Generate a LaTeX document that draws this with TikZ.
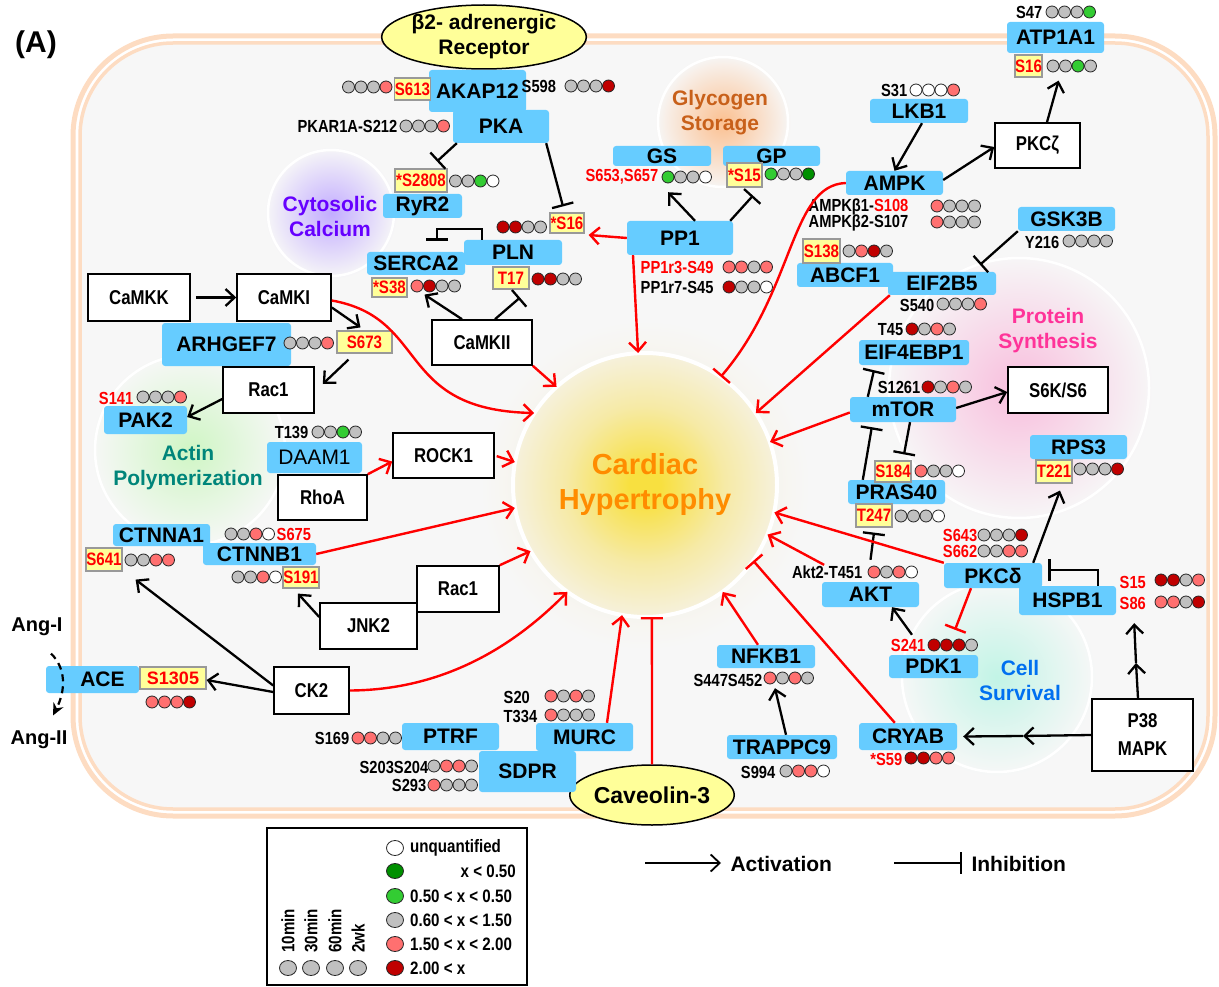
\documentclass[tikz,border=0pt]{standalone}
\usepackage{fontspec}
\setmainfont{Liberation Sans}
\newfontfamily\narrowfont[FakeStretch=0.84]{Liberation Sans}
\usepackage{xcolor}
\usetikzlibrary{arrows.meta,shapes.geometric}
\definecolor{bgcell}{HTML}{F7F7F7}
\definecolor{peach}{HTML}{FDDCC2}
\definecolor{protblue}{HTML}{66CCFF}
\definecolor{siteyellow}{HTML}{FFFF99}
\definecolor{sitegray}{HTML}{999999}
\definecolor{gy}{HTML}{C0C0C0}
\definecolor{pk}{HTML}{FF7070}
\definecolor{dr}{HTML}{C00000}
\definecolor{lg}{HTML}{33CC33}
\definecolor{dg}{HTML}{009000}
\definecolor{wh}{HTML}{FFFFFF}
\definecolor{calciumc}{HTML}{6600FF}
\definecolor{calciumglow}{HTML}{C2ACFF}
\definecolor{glycoc}{HTML}{C8601A}
\definecolor{glycoglow}{HTML}{FBC091}
\definecolor{actinc}{HTML}{00857A}
\definecolor{actinglow}{HTML}{CFF6C4}
\definecolor{proteinc}{HTML}{FF3399}
\definecolor{proteinglow}{HTML}{F8BEDD}
\definecolor{survivalc}{HTML}{0070F0}
\definecolor{survivalglow}{HTML}{C2F4E6}
\definecolor{cardiacc}{HTML}{FF8C00}
\definecolor{cgA}{HTML}{F8E040}
\definecolor{cgB}{HTML}{F6EAA6}
\definecolor{cgC}{HTML}{F6F1DC}
\definecolor{cghalo}{HTML}{F4EDCF}
\pgfdeclareradialshading{cardglow}{\pgfpoint{0bp}{0bp}}{color(0bp)=(cgA); color(3bp)=(cgA); color(15bp)=(cgB); color(25bp)=(cgC); color(50bp)=(cgC)}

\newcommand{\boxfont}{\bfseries\fontsize{21}{23}\selectfont}
\newcommand{\wboxfont}{\narrowfont\bfseries\fontsize{20}{28}\selectfont}
\newcommand{\sitefont}{\narrowfont\bfseries\fontsize{17.5}{19}\selectfont}
\newcommand{\ysitefont}{\narrowfont\bfseries\fontsize{18}{20}\selectfont}
\newcommand{\regionfont}{\bfseries\fontsize{21}{25}\selectfont}
\newcommand{\cardfont}{\bfseries\fontsize{29}{35}\selectfont}
\newcommand{\legfont}{\narrowfont\bfseries\fontsize{18}{20}\selectfont}
\newcommand{\legbigfont}{\bfseries\fontsize{21}{23}\selectfont}

\tikzset{
  prot/.style={fill=protblue, rounded corners=3pt, font=\boxfont, inner sep=0pt},
  wbox/.style={draw=black, line width=1.6pt, fill=white, font=\wboxfont, inner sep=0pt, align=center},
  ysite/.style={draw=sitegray, line width=1.2pt, fill=siteyellow, font=\ysitefont, text=red, inner sep=0pt},
  site/.style={font=\sitefont, inner sep=0.5pt},
  region/.style={font=\regionfont, align=center},
  dotline/.style={draw=black!85, line width=0.8pt},
  act/.style={->, line width=2.3pt},
  inh/.style={-{Bar[width=22pt]}, line width=2.3pt},
  ract/.style={act, red, line width=2.4pt},
  rinh/.style={inh, red, line width=2.4pt},
}
% four time points of one phosphosite
\newcommand{\phos}[3]{%
  \foreach \col [count=\i from 0] in {#3} {
    \draw[dotline, fill=\col] ({#1+12.5*\i},#2) circle (6pt);
  }}

\begin{document}
\begin{tikzpicture}[x=1pt,y=-1pt,>={Straight Barb[length=9pt,width=17pt]}]
  \useasboundingbox (0,0) rectangle (1219,987);
  % cell membrane
  \draw[peach, line width=5pt, rounded corners=100pt] (73,36) rectangle (1215,816);
  \draw[peach, line width=3.5pt, fill=bgcell, rounded corners=93pt] (80,43) rectangle (1208,809);
  % functional regions
  \shade[inner color=calciumglow, outer color=bgcell] (331,213) circle (66pt);
  \draw[white, line width=2.5pt] (331,213) circle (63pt);
  \shade[inner color=glycoglow, outer color=bgcell] (723,122) circle (68pt);
  \draw[white, line width=2.5pt] (723,122) circle (65pt);
  \shade[inner color=actinglow, outer color=bgcell] (190,450) circle (99pt);
  \draw[white, line width=2.5pt] (190,450) circle (95pt);
  \shade[inner color=proteinglow, outer color=bgcell] (1019,388) circle (134pt);
  \draw[white, line width=2.5pt] (1019,388) circle (130pt);
  \shade[inner color=survivalglow, outer color=bgcell] (997,677) circle (99pt);
  \draw[white, line width=2.5pt] (997,677) circle (95pt);
  \shade[inner color=cghalo, outer color=bgcell] (645,485) circle (165pt);
  \node[circle, minimum size=264pt, shade, shading=cardglow, font=\cardfont, text=cardiacc, align=center] (cardiac) at (645,485) {Cardiac\\Hypertrophy};
  \draw[white, line width=4pt] (645,485) circle (132pt);

  \node[region, text=calciumc] (calcium) at (330,216) {Cytosolic\\Calcium};
  \node[region, text=glycoc] (glyco) at (720,113) {Glycogen\\Storage};
  \node[region, text=actinc] (actin) at (188,468) {Actin\\Polymerization};
  \node[region, text=proteinc] (protein) at (1048,331) {Protein\\Synthesis};
  \node[region, text=survivalc] (survival) at (1020,680) {Cell\\Survival};

  \node[font=\bfseries\fontsize{30}{32}\selectfont] (panel) at (36,45) {(A)};
  \node[ellipse, draw, line width=1.5pt, fill=siteyellow, minimum width=190pt, minimum height=64pt, inner sep=0pt, region] (b2ar) at (484,37) {β2- adrenergic\\Receptor};
  \node[ellipse, draw, line width=1.5pt, fill=siteyellow, minimum width=158pt, minimum height=60pt, inner sep=0pt, font=\bfseries\fontsize{23}{25}\selectfont] (cav3) at (652,795) {Caveolin-3};

  % proteins
  \node[prot, minimum width=97pt, minimum height=42pt] (akap) at (477.5,91) {AKAP12};
  \node[prot, minimum width=96pt, minimum height=33pt] (pka) at (501,126.5) {PKA};
  \node[prot, minimum width=79pt, minimum height=24pt] (ryr2) at (422.5,206) {RyR2};
  \node[prot, minimum width=98pt, minimum height=25pt] (pln) at (513,252.5) {PLN};
  \node[prot, minimum width=98pt, minimum height=23pt] (serca) at (416,263.5) {SERCA2};
  \node[prot, minimum width=106pt, minimum height=34pt] (pp1) at (680,238) {PP1};
  \node[prot, minimum width=98pt, minimum height=20pt] (gs) at (662,156) {GS};
  \node[prot, minimum width=97pt, minimum height=20pt] (gp) at (771.5,156) {GP};
  \node[prot, minimum width=97pt, minimum height=24pt] (ampk) at (894.5,183) {AMPK};
  \node[prot, minimum width=98pt, minimum height=24pt] (lkb1) at (919,111) {LKB1};
  \node[prot, minimum width=97pt, minimum height=31pt] (atp) at (1055.5,37.5) {ATP1A1};
  \node[prot, minimum width=97pt, minimum height=24pt] (gsk) at (1066.5,219) {GSK3B};
  \node[prot, minimum width=96pt, minimum height=24pt] (abcf1) at (845,275) {ABCF1};
  \node[prot, minimum width=108pt, minimum height=23pt] (eif2b5) at (942,283.5) {EIF2B5};
  \node[prot, minimum width=110pt, minimum height=25pt] (eif4) at (914,352.5) {EIF4EBP1};
  \node[prot, minimum width=106pt, minimum height=25pt] (mtor) at (903,409.5) {mTOR};
  \node[prot, minimum width=97pt, minimum height=24pt] (pras) at (896.5,492) {PRAS40};
  \node[prot, minimum width=97pt, minimum height=24pt] (rps3) at (1078.5,447) {RPS3};
  \node[prot, minimum width=98pt, minimum height=25pt] (pkcd) at (993,575.5) {PKCδ};
  \node[prot, minimum width=97pt, minimum height=29pt] (hspb1) at (1067.5,600.5) {HSPB1};
  \node[prot, minimum width=97pt, minimum height=25pt] (akt) at (870.5,594.5) {AKT};
  \node[prot, minimum width=89pt, minimum height=23pt] (pdk1) at (933.5,666.5) {PDK1};
  \node[prot, minimum width=98pt, minimum height=27pt] (cryab) at (908,736.5) {CRYAB};
  \node[prot, minimum width=98pt, minimum height=23pt] (nfkb1) at (766,656.5) {NFKB1};
  \node[prot, minimum width=110pt, minimum height=24pt] (trappc9) at (782,747) {TRAPPC9};
  \node[prot, minimum width=97pt, minimum height=28pt] (murc) at (584.5,737) {MURC};
  \node[prot, minimum width=97pt, minimum height=27pt] (ptrf) at (450.5,736.5) {PTRF};
  \node[prot, minimum width=97pt, minimum height=41pt] (sdpr) at (527.5,771.5) {SDPR};
  \node[prot, minimum width=129pt, minimum height=43pt] (arhgef7) at (226.5,344.5) {ARHGEF7};
  \node[prot, minimum width=83pt, minimum height=28pt] (pak2) at (145.5,420) {PAK2};
  \node[prot, minimum width=95pt, minimum height=31pt, font=\fontsize{21}{23}\selectfont] (daam1) at (314.5,457.5) {DAAM1};
  \node[prot, minimum width=97pt, minimum height=22pt] (ctnna1) at (161.5,535) {CTNNA1};
  \node[prot, minimum width=113pt, minimum height=22pt] (ctnnb1) at (259.5,554) {CTNNB1};
  \node[prot, minimum width=93pt, minimum height=27pt] (ace) at (92.5,679.5) {\hspace*{20pt}ACE};

  % kinases and other partners
  \node[wbox, minimum width=102pt, minimum height=47pt] (camkk) at (139,297.5) {CaMKK};
  \node[wbox, minimum width=94pt, minimum height=47pt] (camki) at (284,297.5) {CaMKI};
  \node[wbox, minimum width=100pt, minimum height=45pt] (camkii) at (482,342.5) {CaMKII};
  \node[wbox, minimum width=91pt, minimum height=46pt] (rac1a) at (268.5,390) {Rac1};
  \node[wbox, minimum width=89pt, minimum height=45pt] (rhoa) at (322.5,497.5) {RhoA};
  \node[wbox, minimum width=101pt, minimum height=45pt] (rock1) at (443.5,455.5) {ROCK1};
  \node[wbox, minimum width=97pt, minimum height=46pt] (jnk2) at (368.5,626) {JNK2};
  \node[wbox, minimum width=82pt, minimum height=46pt] (rac1b) at (458,589) {Rac1};
  \node[wbox, minimum width=75pt, minimum height=47pt] (ck2) at (311.5,690.5) {CK2};
  \node[wbox, minimum width=85pt, minimum height=45pt] (pkcz) at (1037.5,145.5) {PKCζ};
  \node[wbox, minimum width=100pt, minimum height=46pt] (s6k) at (1058,390) {S6K/S6};
  \node[wbox, minimum width=101pt, minimum height=72pt] (p38) at (1142.5,735) {P38\\MAPK};

  % highlighted phosphosites
  \node[ysite, minimum width=35pt, minimum height=22pt] (s613) at (412.5,89) {S613};
  \node[ysite, minimum width=52pt, minimum height=23pt] (s2808) at (421,180.5) {*S2808};
  \node[ysite, minimum width=34pt, minimum height=20pt] (s16p) at (567,223) {*S16};
  \node[ysite, minimum width=35pt, minimum height=19pt] (s38) at (389.5,287.5) {*S38};
  \node[ysite, minimum width=36pt, minimum height=22pt] (t17) at (511,278) {T17};
  \node[ysite, minimum width=35pt, minimum height=24pt] (s15gp) at (744.5,175) {*S15};
  \node[ysite, minimum width=27pt, minimum height=22pt] (s16a) at (1028.5,66) {S16};
  \node[ysite, minimum width=37pt, minimum height=24pt] (s138) at (821.5,251) {S138};
  \node[ysite, minimum width=36pt, minimum height=21pt] (s184) at (893,471.5) {S184};
  \node[ysite, minimum width=36pt, minimum height=23pt] (t247) at (874,515.5) {T247};
  \node[ysite, minimum width=36pt, minimum height=23pt] (t221) at (1054,471.5) {T221};
  \node[ysite, minimum width=55pt, minimum height=22pt] (s673) at (364.5,342) {S673};
  \node[ysite, minimum width=36pt, minimum height=23pt] (s641) at (104,559.5) {S641};
  \node[ysite, minimum width=36pt, minimum height=21pt] (s191) at (301,577.5) {S191};
  \node[ysite, minimum width=66pt, minimum height=22pt, font=\bfseries\fontsize{18}{20}\selectfont] (s1305) at (173,678) {S1305};

  % other phosphosites
  \node[site, anchor=west] (l598) at (521,86) {S598};
  \node[site, anchor=east] (lpkar) at (398,126) {PKAR1A-S212};
  \node[site, anchor=east, text=red] (l653) at (659,177) {S653,S657};
  \node[site, anchor=west, text=red] (lpp1r3) at (640,267) {PP1r3-S49};
  \node[site, anchor=west] (lpp1r7) at (640,287) {PP1r7-S45};
  \node[site, anchor=east] (l31) at (908,90) {S31};
  \node[site, anchor=east] (l47) at (1043,12) {S47};
  \node[site, anchor=west] (lb1) at (808,207) {AMPKβ1-\textcolor{red}{S108}};
  \node[site, anchor=west] (lb2) at (808,223) {AMPKβ2-S107};
  \node[site, anchor=east] (l216) at (1060,242) {Y216};
  \node[site, anchor=east] (l540) at (935,305) {S540};
  \node[site, anchor=east] (l45) at (904,330) {T45};
  \node[site, anchor=east] (l1261) at (921,387) {S1261};
  \node[site, anchor=east, text=red] (l643) at (978,535) {S643};
  \node[site, anchor=east, text=red] (l662) at (978,551) {S662};
  \node[site, anchor=west, text=red] (l15h) at (1119,582) {S15};
  \node[site, anchor=west, text=red] (l86) at (1119,603) {S86};
  \node[site, anchor=east] (aktlab) at (863,572) {Akt2-T451};
  \node[site, anchor=east, text=red] (l241) at (926,645) {S241};
  \node[site, anchor=east, text=red] (l59) at (903,759) {*S59};
  \node[site, anchor=east] (l447) at (763,680) {S447S452};
  \node[site, anchor=east] (l994) at (776,772) {S994};
  \node[site, anchor=west] (l20) at (503,697) {S20};
  \node[site, anchor=west] (l334) at (503,716) {T334};
  \node[site, anchor=east] (l169) at (350,738) {S169};
  \node[site, anchor=east] (l203) at (429,767) {S203S204};
  \node[site, anchor=east] (l293) at (427,785) {S293};
  \node[site, anchor=east, text=red] (l141) at (134,398) {S141};
  \node[site, anchor=east] (l139) at (309,432) {T139};
  \node[site, anchor=west, text=red] (l675) at (276,534) {S675};
  \node[font=\bfseries\fontsize{20}{22}\selectfont] (angi) at (37,627) {Ang-I};
  \node[font=\bfseries\fontsize{20}{22}\selectfont] (angii) at (39,740) {Ang-II};

  % calcium handling
  \draw[inh] ([xshift=4pt]pka.south west) -- ([xshift=16pt,yshift=7pt]s2808.north);
  \draw[inh] ([xshift=-3pt]pka.south east) -- ([xshift=-4pt,yshift=6pt]s16p.north);
  \draw[inh] ([xshift=-31pt]pln.north) -- ++(0,-11) -| ([xshift=21pt,yshift=11pt]serca.north);
  \draw[act] ([xshift=-20pt]camkii.north) -- ([xshift=35pt,yshift=3pt]s38.south);
  \draw[inh] ([xshift=13pt]camkii.north) -- ([xshift=9pt,yshift=-8pt]t17.south);
  \draw[ract] (camkii.south east) -- (cardiac.132);
  \draw[ract] (pp1.west) -- ([xshift=4pt,yshift=-12pt]s16p.east);
  % glycogen and energy
  \draw[act] ([xshift=15pt]pp1.north) -- ([xshift=6pt,yshift=-26pt]gs.south);
  \draw[inh] ([xshift=-3pt]pp1.north east) -- ([xshift=8.5pt,yshift=-8pt]s15gp.south);
  \draw[ract] ([xshift=-47pt]pp1.south) -- (cardiac.93);
  \draw[act] ([xshift=3pt]lkb1.south) -- (ampk.north);
  \draw[act] ([yshift=3pt]ampk.east) -- ([yshift=-1.5pt]pkcz.west);
  \draw[act] ([xshift=9.5pt]pkcz.north) -- ([xshift=16pt,yshift=-3pt]s16a.south east);
  \draw[rinh] (ampk.west) .. controls (790,185) and (795,290) .. (cardiac.55);
  % protein synthesis
  \draw[inh] (gsk.south west) -- ([xshift=38pt,yshift=7pt]eif2b5.north);
  \draw[ract] ([xshift=2pt]eif2b5.south west) -- (cardiac.33);
  \draw[inh] ([xshift=18pt]mtor.north west) -- ([xshift=-40pt,yshift=-5pt]eif4.south);
  \draw[act] ([yshift=1.5pt]mtor.east) -- ([yshift=-2pt]s6k.west);
  \draw[ract] ([yshift=-3pt]mtor.west) -- (cardiac.19);
  \draw[inh] ([xshift=7pt]mtor.south) -- ([xshift=11pt,yshift=6pt]s184.north);
  \draw[inh] ([xshift=15pt]pras.north west) -- ([xshift=22pt,yshift=-5pt]mtor.south west);
  % cell survival
  \draw[inh] ([yshift=22pt]akt.north) -- ([yshift=-5pt]t247.south);
  \draw[ract] ([xshift=-3pt]aktlab.north) -- (cardiac.-22);
  \draw[act] ([xshift=-21.5pt,yshift=20pt]pdk1.north) -- ([xshift=21.5pt]akt.south);
  \draw[rinh] ([xshift=-22pt]pkcd.south) -- ([xshift=21.5pt,yshift=25pt]pdk1.north);
  \draw[ract] (pkcd.north west) -- (cardiac.-12);
  \draw[act] ([xshift=-9pt]pkcd.north east) -- ([xshift=6pt,yshift=-7pt]t221.south);
  \draw[inh] ([xshift=30.5pt]hspb1.north) |- ([xshift=6pt,yshift=5.5pt]pkcd.east);
  \coordinate (p38up) at (1136,663);
  \coordinate (p38left) at (1023,736);
  \draw[act] ([xshift=-4.5pt]p38.north) -- (p38up);
  \draw[act] (p38up) -- ([xshift=18pt,yshift=-8pt]hspb1.south east);
  \draw[act] (p38.west) -- (p38left);
  \draw[act] (p38left) -- ([xshift=6pt]cryab.east);
  \draw[rinh] ([xshift=36pt]cryab.north west) -- (cardiac.-35);
  \draw[ract] ([xshift=-8pt]nfkb1.north) -- (cardiac.-54);
  \draw[act] ([xshift=4pt]trappc9.north) -- ([xshift=9pt,yshift=-20pt]nfkb1.south);
  % caveolae
  \draw[rinh] (cav3.north) -- (cardiac.-87);
  \draw[ract] ([xshift=22.5pt]murc.north) -- (cardiac.-100);
  % cytoskeleton and adhesion
  \draw[act, shorten <=5pt] (camkk.east) -- (camki.west);
  \draw[act] ([yshift=-10pt]camki.east) -- ([xshift=-4pt,yshift=3pt]s673.north);
  \draw[ract] ([yshift=-3pt]camki.east) .. controls (430,318) and (395,410) .. (cardiac.147);
  \draw[act] ([xshift=-16pt,yshift=-6pt]s673.south) -- ([xshift=8pt,yshift=6pt]rac1a.east);
  \draw[act] ([yshift=-9pt]rac1a.west) -- ([yshift=3pt]pak2.east);
  \draw[ract] (rhoa.north east) -- ([yshift=-6pt]rock1.west);
  \draw[ract, shorten <=2pt] (rock1.east) -- (cardiac.170);
  \draw[ract] (ctnnb1.east) -- (cardiac.190);
  \draw[act] ([yshift=9pt]jnk2.west) -- ([xshift=-3pt,yshift=-5pt]s191.south);
  \draw[ract] (rac1b.north east) -- (cardiac.210);
  \draw[act] ([yshift=5pt]ck2.west) -- ([xshift=13pt,yshift=-8pt]s641.south east);
  \draw[act] ([yshift=-1.5pt]ck2.west) -- ([yshift=-2pt]s1305.east);
  \draw[ract] (ck2.east) .. controls (450,690) and (520,640) .. (cardiac.234);
  \draw[dash pattern=on 7pt off 5pt, line width=2.2pt, -{Stealth[length=12pt,width=11pt]}] ([xshift=14pt,yshift=-14pt]angi.south) .. controls (66,668) and (66,690) .. ([xshift=14pt,yshift=12pt]angii.north);

  % phosphorylation levels at 10min, 30min, 60min, 2wk
  \phos{348.5}{87}{gy,gy,gy,pk}
  \phos{571}{86}{gy,gy,gy,dr}
  \phos{406}{126}{gy,gy,gy,pk}
  \phos{455.5}{181}{gy,gy,lg,wh}
  \phos{503}{227}{dr,dr,gy,gy}
  \phos{417}{286}{pk,dr,gy,gy}
  \phos{538}{279}{dr,dr,gy,gy}
  \phos{668}{177}{lg,gy,gy,wh}
  \phos{771}{174}{lg,gy,gy,dg}
  \phos{729}{267}{pk,pk,gy,pk}
  \phos{729}{287}{dr,gy,gy,wh}
  \phos{916}{90}{wh,wh,wh,pk}
  \phos{1052}{12}{gy,gy,gy,lg}
  \phos{1053}{66}{gy,gy,lg,gy}
  \phos{937}{206}{pk,gy,gy,gy}
  \phos{937}{222}{pk,gy,gy,gy}
  \phos{849}{251}{gy,pk,dr,gy}
  \phos{1069}{241}{gy,gy,gy,gy}
  \phos{943}{304}{gy,gy,gy,pk}
  \phos{912}{329}{dr,gy,pk,gy}
  \phos{928}{387}{dr,gy,pk,gy}
  \phos{921}{471}{pk,gy,gy,wh}
  \phos{901}{516}{gy,gy,gy,wh}
  \phos{1080}{469}{gy,gy,gy,dr}
  \phos{984}{535}{gy,gy,gy,dr}
  \phos{984}{551}{gy,gy,pk,pk}
  \phos{1161}{580}{dr,dr,gy,pk}
  \phos{1161}{602}{pk,pk,gy,dr}
  \phos{874}{572}{pk,gy,pk,wh}
  \phos{934}{645}{dr,dr,dr,gy}
  \phos{911}{758}{dr,dr,pk,pk}
  \phos{770}{678}{pk,gy,pk,gy}
  \phos{786}{771}{gy,pk,pk,wh}
  \phos{551}{696}{pk,gy,pk,gy}
  \phos{551}{715}{pk,gy,gy,gy}
  \phos{358}{738}{pk,pk,gy,gy}
  \phos{434}{766}{gy,pk,pk,gy}
  \phos{434}{785}{pk,gy,gy,gy}
  \phos{290}{343}{gy,gy,gy,pk}
  \phos{143}{397}{gy,gy,gy,pk}
  \phos{318}{432}{gy,gy,lg,gy}
  \phos{231}{534}{gy,gy,pk,wh}
  \phos{131}{560}{gy,gy,pk,pk}
  \phos{238}{577}{gy,gy,pk,wh}
  \phos{152}{702}{pk,pk,pk,dr}

  % legend
  \node[draw, line width=1.5pt, fill=white, minimum width=260pt, minimum height=157pt] (legend) at (397,906.5) {};
  \foreach \col/\yy in {wh/848, dg/871, lg/896, gy/920, pk/944, dr/968} {
    \draw[dotline, fill=\col] (395,\yy) ellipse (8.5pt and 7.5pt);
  }
  \node[font=\legfont, anchor=west, inner sep=0pt] (lunq) at (410,848) {unquantified};
  \node[font=\legfont, anchor=east, inner sep=0pt] (lfifty) at (516,871) {x < 0.50};
  \node[font=\legfont, anchor=west, inner sep=0pt] (lgreen) at (410,896) {0.50 < x < 0.50};
  \node[font=\legfont, anchor=west, inner sep=0pt] (lgray) at (410,920) {0.60 < x < 1.50};
  \node[font=\legfont, anchor=west, inner sep=0pt] (lpink) at (410,944) {1.50 < x < 2.00};
  \node[font=\legfont, anchor=west, inner sep=0pt] (lred) at (410,968) {2.00 < x};
  \foreach \tp/\xx in {10min/288, 30min/311, 60min/335, 2wk/358} {
    \node[font=\legfont, rotate=90, anchor=west, inner sep=0pt] at (\xx,953) {\tp};
    \draw[dotline, fill=gy] (\xx,968) ellipse (8.5pt and 7.5pt);
  }
  \coordinate (actL) at (645,863);
  \coordinate (actR) at (721,863);
  \draw[act, line width=1.8pt] (actL) -- (actR);
  \node[font=\legbigfont, anchor=west] (lact) at (727,864) {Activation};
  \coordinate (inhL) at (894,863);
  \coordinate (inhR) at (962,863);
  \draw[inh, line width=1.8pt] (inhL) -- (inhR);
  \node[font=\legbigfont, anchor=west] (linh) at (968,864) {Inhibition};
\end{tikzpicture}
\end{document}
